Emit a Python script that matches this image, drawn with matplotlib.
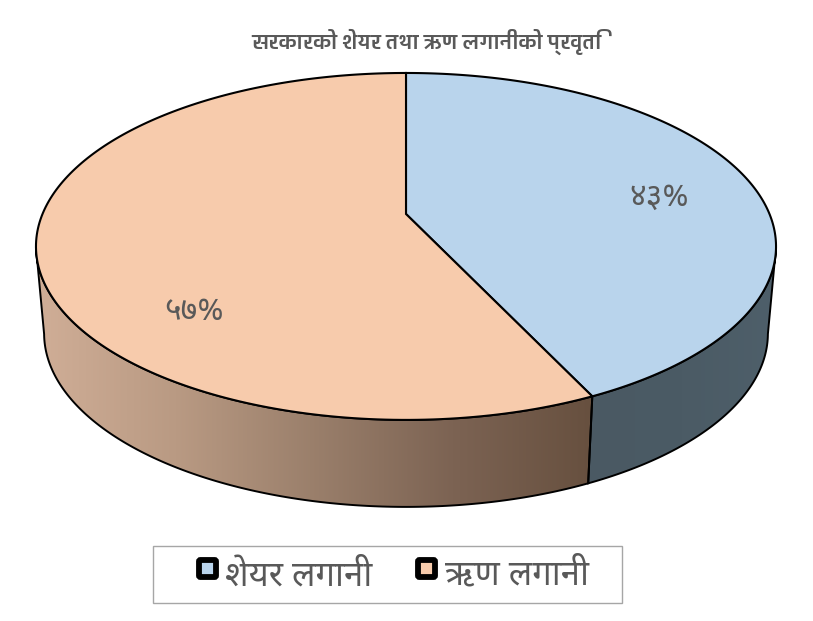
# pie 3d con perspectiva, dibujado a mano porque ax.pie no hace esto
import numpy as np
import matplotlib
matplotlib.use("Agg")
import matplotlib.pyplot as plt
import matplotlib.patches as patches
from matplotlib.colors import LinearSegmentedColormap
import logging
logging.getLogger("matplotlib.font_manager").setLevel(logging.ERROR)

title = "सरकारको शेयर तथा ऋण लगानीको प्रवृति"
labels = ["शेयर लगानी", "ऋण लगानी"]
shares = [43, 57]
top_colors = ["#b9d4ec", "#f7cbac"]
deva_digits = str.maketrans("0123456789", "०१२३४५६७८९")

fonts = ["Noto Sans Devanagari", "Noto Sans", "Mukta", "Annapurna SIL", "DejaVu Sans"]
plt.rcParams["font.family"] = fonts

# disc geometry in picture pixels
cx, cy = 406, 214
a, b, k = 363.5, 167.4, 0.187
low_dy, low_sx = 87, 0.978
text_col = "#595959"


def rim(theta, lower=False):
    # theta clockwise from 12 o'clock, projected circle
    w = 1 + k * np.cos(theta)
    x = a * np.sin(theta) / w
    y = -b * np.cos(theta) / w
    if lower:
        return cx + low_sx * x, cy + low_dy + y
    return cx + x, cy + y


def wedge_xy(t0, t1):
    t = np.linspace(t0, t1, 200)
    x, y = rim(t)
    return np.column_stack([np.r_[cx, x], np.r_[cy, y]])


def wall_xy(t0, t1):
    t = np.linspace(t0, t1, 200)
    x0, y0 = rim(t)
    x1, y1 = rim(t[::-1], lower=True)
    return np.column_stack([np.r_[x0, x1], np.r_[y0, y1]])


fig = plt.figure(figsize=(8.13, 6.21), dpi=100)
ax = fig.add_axes([0, 0, 1, 1])
ax.set_xlim(0, 813)
ax.set_ylim(621, 0)
ax.axis("off")

seam = 2 * np.pi * shares[0] / sum(shares)
side_left, side_right = np.radians(101), np.radians(259)

# paredes: gris azulado a la derecha, marron con degradado a la izquierda
wall_maps = [
    LinearSegmentedColormap.from_list("w0", ["#4a5963", "#4b5b65", "#4e5f6a"]),
    LinearSegmentedColormap.from_list("w1", ["#d0ae97", "#b99a83", "#9a7f6b", "#7c6353", "#67503f"]),
]
walls = [wall_xy(side_left, seam), wall_xy(seam, side_right)]
grad = np.linspace(0, 1, 256).reshape(1, -1)
for xy, cmap in zip(walls, wall_maps):
    im = ax.imshow(grad, cmap=cmap, aspect="auto", zorder=1,
                   extent=[xy[:, 0].min(), xy[:, 0].max(), xy[:, 1].max(), xy[:, 1].min()])
    poly = patches.Polygon(xy, closed=True, fill=False, edgecolor="black", linewidth=1.4, zorder=2)
    ax.add_patch(poly)
    im.set_clip_path(poly)
# imshow resets limits
ax.set_xlim(0, 813)
ax.set_ylim(621, 0)

# caras de arriba
starts = [0, seam]
ends = [seam, 2 * np.pi]
for t0, t1, col in zip(starts, ends, top_colors):
    ax.add_patch(patches.Polygon(wedge_xy(t0, t1), closed=True, facecolor=col,
                                 edgecolor="black", linewidth=1.5, zorder=3))

# etiquetas
label_pos = [(659, 197), (194, 312)]
for val, (x, y) in zip(shares, label_pos):
    ax.text(x, y, f"{val}%".translate(deva_digits), ha="center", va="center",
            fontsize=23, color=text_col, zorder=4)

ax.text(426, 42, title, ha="center", va="center", fontsize=15.5,
        family=["Biryani", "Noto Sans Devanagari", "DejaVu Sans"],
        fontweight="bold", color=text_col)

# leyenda
ax.add_patch(patches.Rectangle((153, 546), 469, 57, facecolor="white", edgecolor="#a6a6a6", linewidth=1))
key_x = [199, 418]
text_x = [225, 445]
for kx, tx, col, name in zip(key_x, text_x, top_colors, labels):
    ax.add_patch(patches.FancyBboxPatch((kx, 560), 17, 17, boxstyle="round,pad=0,rounding_size=1.5",
                                        facecolor=col, edgecolor="black", linewidth=4.2, zorder=5))
    ax.text(tx, 576, name, ha="left", va="center", fontsize=25, color=text_col)

fig.savefig("out.png", dpi=100)
plt.close(fig)
